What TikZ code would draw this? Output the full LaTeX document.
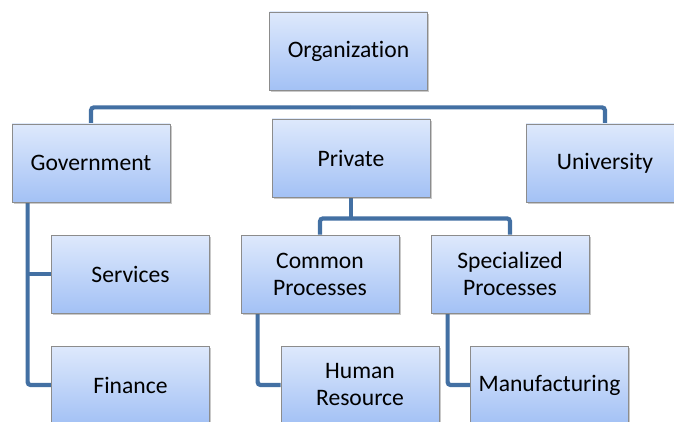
\documentclass[tikz,border=0pt]{standalone}
\usepackage{fontspec}
\setmainfont{Carlito}[Ligatures=NoCommon]
\usetikzlibrary{shadows,backgrounds,calc}
\definecolor{conncol}{RGB}{67,112,163}
\definecolor{boxtop}{RGB}{222,233,252}
\definecolor{boxbot}{RGB}{163,193,245}
\definecolor{boxline}{RGB}{140,140,140}
\tikzset{
  orgbox/.style={draw=boxline, line width=0.8pt, top color=boxtop, bottom color=boxbot,
    minimum width=158pt, minimum height=78pt, inner sep=0pt, align=center,
    font=\fontsize{23.6}{27}\selectfont,
    drop shadow={shadow xshift=1.8pt, shadow yshift=-1.8pt, opacity=0.35, fill=black!60}},
  conn/.style={draw=conncol, line width=4.2pt, rounded corners=3pt}
}
\begin{document}
\begin{tikzpicture}[x=1pt,y=-1pt]
\useasboundingbox (0,0) rectangle (674,422);
\clip (0,0) rectangle (674,422);
\node[orgbox] (org)  at (348.5,51) {Organization};
\node[orgbox] (gov)  at (91,163)   {Government};
\node[orgbox] (priv) at (351,158)  {Private};
\node[orgbox] (univ) at (605,163)  {University};
\node[orgbox] (serv) at (130.5,274) {Services};
\node[orgbox] (fin)  at (130.5,385) {Finance};
\node[orgbox] (com)  at (320,274)  {Common\\Processes};
\node[orgbox] (spec) at (510,274)  {Specialized\\Processes};
\node[orgbox] (hr)   at (360,385)  {Human\\Resource};
\node[orgbox] (man)  at (549.5,385) {Manufacturing};
\begin{pgfonlayer}{background}
  \fill[white] (0,0) rectangle (674,422);
  \coordinate (b1) at ($(org.south)+(1.5,17)$);
  \draw[conn] (b1) -| (gov.north);
  \draw[conn] (b1) -| (univ.north);
  \draw[conn] ($(org.south)+(1.5,0)$) -- ($(org.south)+(1.5,0)$ |- priv.north);
  \coordinate (b2) at ($(priv.south)+(0,21)$);
  \draw[conn] (priv.south) -- (b2);
  \draw[conn] (b2) -| (com.north);
  \draw[conn] (b2) -| (spec.north);
  \coordinate (g0) at ($(gov.south west)+(16,0)$);
  \draw[conn] (g0) |- (fin.west);
  \draw[conn] (g0 |- serv.west) -- (serv.west);
  \coordinate (c0) at ($(com.south west)+(17,0)$);
  \draw[conn] (c0) |- (hr.west);
  \coordinate (s0) at ($(spec.south west)+(17,0)$);
  \draw[conn] (s0) |- (man.west);
\end{pgfonlayer}
\end{tikzpicture}
\end{document}
